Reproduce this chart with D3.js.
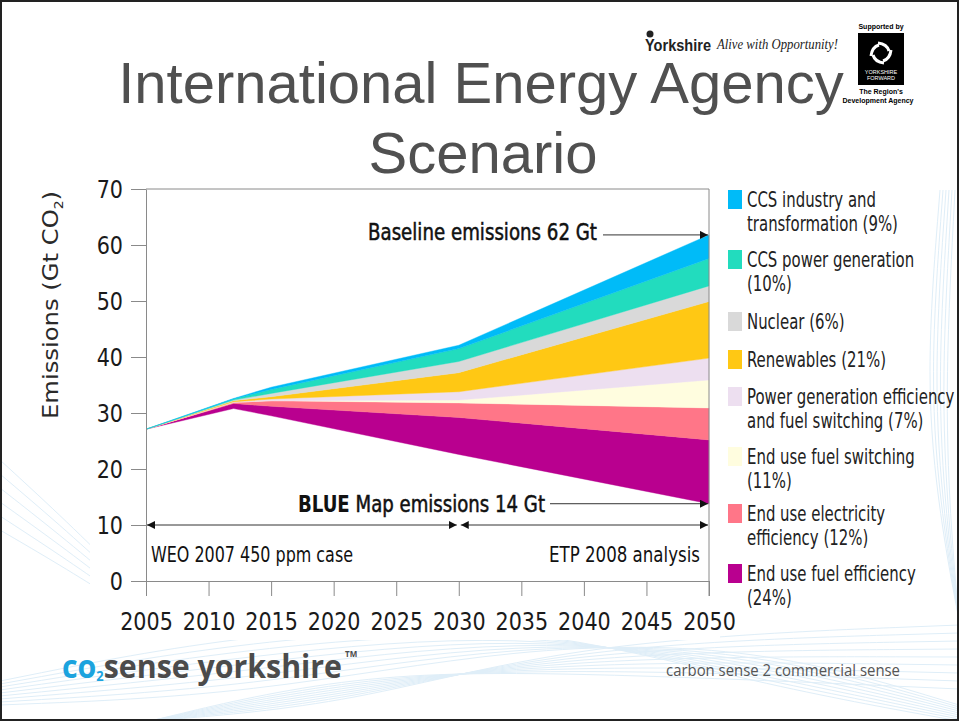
<!DOCTYPE html>
<html>
<head>
<meta charset="utf-8">
<script src="https://cdn.jsdelivr.net/npm/d3@7"></script>
<style>
  html, body { margin: 0; padding: 0; background: #fff; }
  svg { display: block; }
  .narrow { font-family: "Liberation Sans Narrow", "DejaVu Sans Condensed", "Arial Narrow", sans-serif; }
</style>
</head>
<body>
<svg id="slide" width="959" height="721"></svg>
<script>
// years where the wedge outlines bend
var years = [2005, 2012, 2015, 2030, 2050];

// BLUE Map emissions (bottom of the wedges), Gt CO2
var blueMap = [27.1, 30.8, 29.5, 22.6, 13.8];

// wedge thickness per year, bottom to top
var endUseFuelEff    = [0, 0.9, 1.7, 6.6, 11.4];
var endUseElecEff    = [0, 0.2, 1.0, 2.6, 5.7];
var endUseFuelSwitch = [0, 0.0, 0.0, 0.5, 5.0];
var powerGenEff      = [0, 0.1, 0.3, 1.5, 3.9];
var renewables       = [0, 0.2, 0.4, 3.4, 10.1];
var nuclear          = [0, 0.1, 0.6, 2.0, 2.8];
var ccsPower         = [0, 0.2, 0.7, 2.3, 4.9];
var ccsIndustry      = [0, 0.1, 0.4, 0.6, 4.2];

var wedgeKeys = ["fuelEff", "elecEff", "fuelSwitch", "powerGen", "renew", "nuclear", "ccsPower", "ccsInd"];
var wedgeColors = ["#b9008f", "#ff7688", "#fffddf", "#eddff0", "#ffc814", "#d9d9d9", "#22dcbe", "#00bbf8"];

// legend, top to bottom
var legendLabels = [
  ["CCS industry and", "transformation (9%)"],
  ["CCS power generation", "(10%)"],
  ["Nuclear (6%)"],
  ["Renewables (21%)"],
  ["Power generation efficiency", "and fuel switching (7%)"],
  ["End use fuel switching", "(11%)"],
  ["End use electricity", "efficiency (12%)"],
  ["End use fuel efficiency", "(24%)"]
];
var legendColors = ["#00bbf8", "#22dcbe", "#d9d9d9", "#ffc814", "#eddff0", "#fffddf", "#ff7688", "#b9008f"];
var legendTops = [190, 250, 312, 350, 387, 447, 504, 564];

var yTicks = [0, 10, 20, 30, 40, 50, 60, 70];
var xTicks = [2005, 2010, 2015, 2020, 2025, 2030, 2035, 2040, 2045, 2050];

var svg = d3.select("#slide");

// squeeze text horizontally, the original uses a condensed face
function condense(sel, ratio) {
  sel.each(function() {
    var w = this.getComputedTextLength();
    d3.select(this).attr("textLength", w * ratio).attr("lengthAdjust", "spacingAndGlyphs");
  });
}

// ---- background swooshes (decoration) ----
var deco = svg.append("g").attr("fill", "none").attr("stroke", "#dfeef8").attr("stroke-width", 1);
var curve = d3.line().curve(d3.curveBasis);
[0, 1, 2, 3, 4, 5, 6, 7, 8].forEach(function(i) {
  deco.append("path").attr("d", curve([[0, 705 - i * 3], [250, 695 - i * 8], [520, 645 - i * 3], [760, 645 + i * 5], [959, 705 + i * 2]]));
  deco.append("path").attr("d", curve([[150, 721], [350, 705 - i * 4], [580, 640 + i * 4], [959, 625 + i * 8]]));
});
[0, 1, 2, 3, 4, 5].forEach(function(i) {
  deco.append("path").attr("d", curve([[940 + i * 3, 190], [925 + i * 4, 380], [940 + i * 2, 520], [959, 620]]));
  deco.append("path").attr("d", curve([[0, 460 + i * 14], [60, 515 + i * 10], [116, 570 + i * 6]]));
});

// ---- title ----
var title = svg.append("g")
  .attr("font-family", "'Liberation Sans', Arial, sans-serif")
  .attr("font-size", 58)
  .attr("fill", "#505050")
  .attr("text-anchor", "middle");
title.append("text").attr("x", 481).attr("y", 103).text("International Energy Agency");
title.append("text").attr("x", 483).attr("y", 173).text("Scenario");

// ---- top-right logos ----
var logo = svg.append("g");
var rose = logo.append("g").attr("transform", "translate(650,34)").attr("fill", "#222");
rose.append("circle").attr("r", 3.5);
logo.append("text")
  .attr("x", 645).attr("y", 51)
  .attr("font-family", "'Liberation Sans', Arial, sans-serif")
  .attr("font-size", 17).attr("font-weight", "bold").attr("fill", "#222")
  .attr("textLength", 66).attr("lengthAdjust", "spacingAndGlyphs")
  .text("Yorkshire");
logo.append("text")
  .attr("x", 717).attr("y", 49)
  .attr("font-family", "'Liberation Serif', serif")
  .attr("font-style", "italic").attr("font-size", 15).attr("fill", "#222")
  .attr("textLength", 121).attr("lengthAdjust", "spacingAndGlyphs")
  .text("Alive with Opportunity!");

var yf = svg.append("g").attr("font-family", "'Liberation Sans', Arial, sans-serif").attr("text-anchor", "middle");
yf.append("text").attr("x", 881).attr("y", 29).attr("font-size", 7).attr("font-weight", "bold").text("Supported by");
yf.append("rect").attr("x", 858).attr("y", 33).attr("width", 46).attr("height", 52).attr("fill", "#000");
var emb = yf.append("g").attr("transform", "translate(881,53)").attr("fill", "none").attr("stroke", "#fff").attr("stroke-width", 3);
[0, 90, 180, 270].forEach(function(a) {
  emb.append("path").attr("transform", "rotate(" + a + ")").attr("d", "M-3,-10 Q6,-9 8,-2");
});
yf.append("text").attr("x", 881).attr("y", 74).attr("font-size", 5.5).attr("fill", "#fff").text("YORKSHIRE");
yf.append("text").attr("x", 881).attr("y", 80).attr("font-size", 5.5).attr("fill", "#fff").text("FORWARD");
yf.append("text").attr("x", 881).attr("y", 94).attr("font-size", 7).attr("font-weight", "bold").text("The Region's");
yf.append("text").attr("x", 878).attr("y", 103).attr("font-size", 7).attr("font-weight", "bold").text("Development Agency");

// ---- chart ----
var x = d3.scaleLinear().domain([2005, 2050]).range([146, 709]);
var y = d3.scaleLinear().domain([0, 70]).range([581, 189]);

var table = years.map(function(yr, i) {
  return {
    year: yr, base: blueMap[i],
    fuelEff: endUseFuelEff[i], elecEff: endUseElecEff[i], fuelSwitch: endUseFuelSwitch[i],
    powerGen: powerGenEff[i], renew: renewables[i], nuclear: nuclear[i],
    ccsPower: ccsPower[i], ccsInd: ccsIndustry[i]
  };
});

var stacked = d3.stack().keys(["base"].concat(wedgeKeys))(table);

var area = d3.area()
  .x(function(d) { return x(d.data.year); })
  .y0(function(d) { return y(d[0]); })
  .y1(function(d) { return y(d[1]); });

var chart = svg.append("g");

// white plot background over the swooshes
chart.append("rect")
  .attr("x", 90).attr("y", 180).attr("width", 630).attr("height", 460).attr("fill", "#fff");

chart.selectAll("path.wedge")
  .data(stacked.slice(1))
  .enter().append("path")
  .attr("class", "wedge")
  .attr("fill", function(d, i) { return wedgeColors[i]; })
  .attr("stroke", function(d, i) { return wedgeColors[i]; })
  .attr("stroke-width", 0.4)
  .attr("d", area);

// frame: top and right edge
chart.append("path")
  .attr("fill", "none").attr("stroke", "#8a8a8a").attr("stroke-width", 1)
  .attr("d", "M" + x(2005) + "," + y(70) + "H" + x(2050) + "V" + (y(0) + 15));

var yAxis = chart.append("g")
  .attr("transform", "translate(" + x(2005) + ",0)")
  .call(d3.axisLeft(y).tickValues(yTicks).tickSize(15).tickSizeOuter(0).tickPadding(8));

var xAxis = chart.append("g")
  .attr("transform", "translate(0," + y(0) + ")")
  .call(d3.axisBottom(x).tickValues(xTicks).tickSize(15).tickSizeOuter(0).tickPadding(16).tickFormat(d3.format("d")));

[yAxis, xAxis].forEach(function(ax) {
  ax.select(".domain").attr("stroke", "#8a8a8a");
  ax.selectAll(".tick line").attr("stroke", "#8a8a8a");
  ax.selectAll(".tick text").attr("font-size", 25).attr("fill", "#1a1a1a")
    .attr("font-family", "'Liberation Sans Narrow', 'DejaVu Sans Condensed', sans-serif")
    .call(condense, 0.92);
});

// y axis title
svg.append("text")
  .attr("transform", "translate(58,305) rotate(-90)")
  .attr("text-anchor", "middle")
  .attr("font-family", "'DejaVu Sans', sans-serif")
  .attr("font-size", 21).attr("fill", "#2a2a2a")
  .attr("textLength", 228).attr("lengthAdjust", "spacingAndGlyphs")
  .call(function(t) {
    t.append("tspan").text("Emissions (Gt CO");
    t.append("tspan").attr("font-size", 12).attr("dy", 5).text("2");
    t.append("tspan").attr("dy", -5).text(")");
  });

// ---- annotations ----
var defs = svg.append("defs");
defs.append("marker")
  .attr("id", "arrow")
  .attr("viewBox", "0 -5 10 10")
  .attr("refX", 10).attr("refY", 0)
  .attr("markerWidth", 8).attr("markerHeight", 8)
  .attr("markerUnits", "userSpaceOnUse")
  .attr("orient", "auto-start-reverse")
  .append("path").attr("d", "M0,-5L10,0L0,5Z").attr("fill", "#111");

var notes = svg.append("g").attr("class", "narrow").attr("fill", "#111");

var top2050 = d3.sum([blueMap, endUseFuelEff, endUseElecEff, endUseFuelSwitch, powerGenEff, renewables, nuclear, ccsPower, ccsIndustry], function(s) { return s[4]; });

notes.append("text")
  .attr("x", 368).attr("y", 240)
  .attr("font-size", 23).attr("stroke", "#111").attr("stroke-width", 0.5)
  .attr("textLength", 229).attr("lengthAdjust", "spacingAndGlyphs")
  .text("Baseline emissions 62 Gt");
notes.append("line")
  .attr("x1", 603).attr("x2", x(2050) - 1)
  .attr("y1", y(top2050)).attr("y2", y(top2050))
  .attr("stroke", "#333").attr("marker-end", "url(#arrow)");

var blueText = notes.append("text")
  .attr("x", 298).attr("y", 512)
  .attr("font-size", 23)
  .attr("textLength", 247).attr("lengthAdjust", "spacingAndGlyphs");
blueText.append("tspan").attr("font-weight", "bold").text("BLUE");
blueText.append("tspan").attr("stroke", "#111").attr("stroke-width", 0.5).text(" Map emissions 14 Gt");
notes.append("line")
  .attr("x1", 550).attr("x2", x(2050) - 1)
  .attr("y1", y(blueMap[4])).attr("y2", y(blueMap[4]))
  .attr("stroke", "#333").attr("marker-end", "url(#arrow)");

notes.append("line")
  .attr("x1", x(2005) + 1).attr("x2", x(2030) - 2)
  .attr("y1", y(10)).attr("y2", y(10))
  .attr("stroke", "#333").attr("marker-start", "url(#arrow)").attr("marker-end", "url(#arrow)");
notes.append("line")
  .attr("x1", x(2030) + 2).attr("x2", x(2050) - 1)
  .attr("y1", y(10)).attr("y2", y(10))
  .attr("stroke", "#333").attr("marker-start", "url(#arrow)").attr("marker-end", "url(#arrow)");

notes.append("text")
  .attr("x", 151).attr("y", 562).attr("font-size", 22)
  .attr("textLength", 202).attr("lengthAdjust", "spacingAndGlyphs")
  .text("WEO 2007 450 ppm case");
notes.append("text")
  .attr("x", 700).attr("y", 562).attr("font-size", 22).attr("text-anchor", "end")
  .attr("textLength", 151).attr("lengthAdjust", "spacingAndGlyphs")
  .text("ETP 2008 analysis");

// ---- legend ----
var legend = svg.append("g").attr("class", "narrow");
var item = legend.selectAll("g.item")
  .data(legendLabels)
  .enter().append("g")
  .attr("class", "item")
  .attr("transform", function(d, i) { return "translate(728," + legendTops[i] + ")"; });
item.append("rect")
  .attr("width", 14).attr("height", 19)
  .attr("fill", function(d, i) { return legendColors[i]; });
item.selectAll("text")
  .data(function(d) { return d; })
  .enter().append("text")
  .attr("x", 19)
  .attr("y", function(d, j) { return 17 + j * 24; })
  .attr("font-size", 21).attr("fill", "#222")
  .text(function(d) { return d; })
  .call(condense, 0.79);

// ---- footer ----
var foot = svg.append("g").attr("font-family", "'Open Sans', 'DejaVu Sans', sans-serif");
var brand = foot.append("text")
  .attr("x", 62).attr("y", 678)
  .attr("font-size", 33).attr("font-weight", "bold")
  .attr("textLength", 280).attr("lengthAdjust", "spacingAndGlyphs");
brand.append("tspan").attr("fill", "#1ba3de").text("co");
brand.append("tspan").attr("fill", "#1ba3de").attr("font-size", 14).attr("dy", 3).text("2");
brand.append("tspan").attr("fill", "#4b4b4b").attr("dy", -3).text("sense yorkshire");
foot.append("text")
  .attr("x", 345).attr("y", 657)
  .attr("font-size", 8).attr("font-weight", "bold").attr("fill", "#4b4b4b")
  .text("TM");
foot.append("text")
  .attr("x", 666).attr("y", 676)
  .attr("font-size", 16).attr("fill", "#555")
  .attr("textLength", 234).attr("lengthAdjust", "spacingAndGlyphs")
  .text("carbon sense 2 commercial sense");

// slide border
svg.append("rect")
  .attr("x", 1).attr("y", 1).attr("width", 957).attr("height", 719)
  .attr("fill", "none").attr("stroke", "#222").attr("stroke-width", 2);
</script>
</body>
</html>
